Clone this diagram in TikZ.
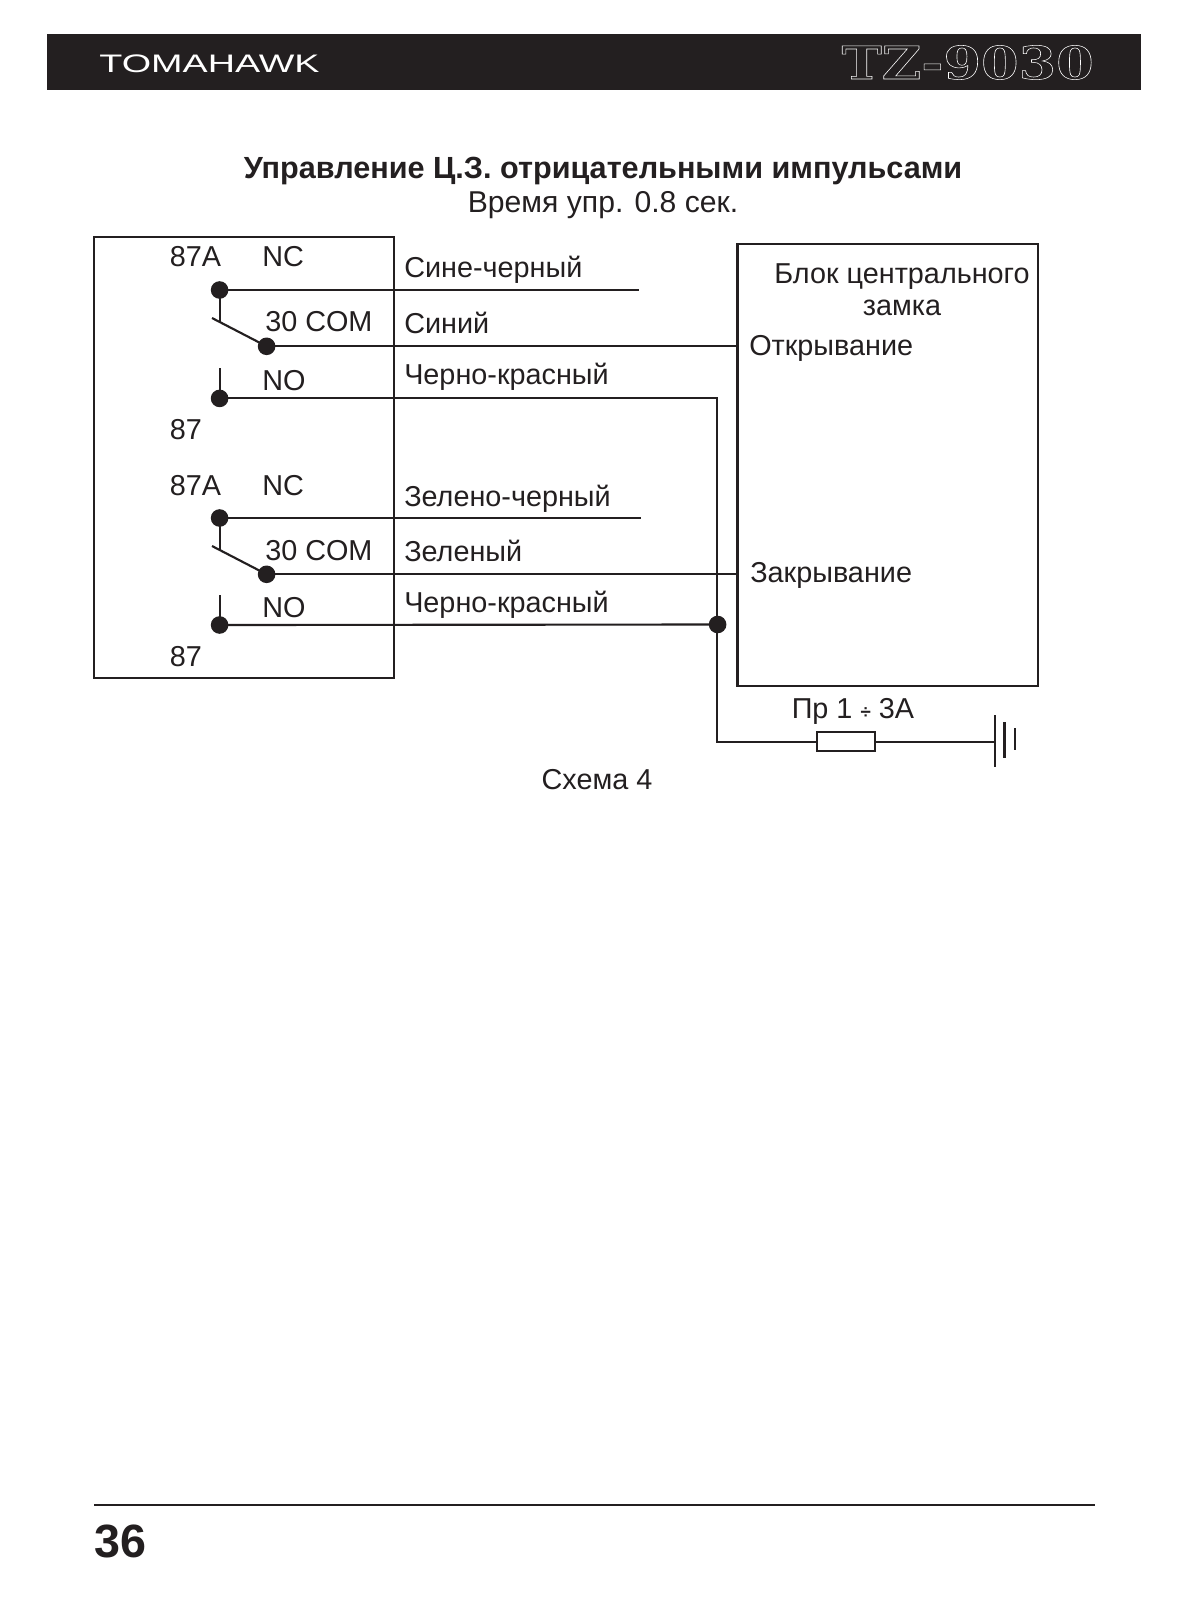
\documentclass[tikz,border=0pt]{standalone}
\usepackage{fontspec}
\setmainfont{Liberation Sans}
\newfontfamily\slabfont{DejaVu Serif}
\definecolor{ink}{HTML}{231F20}
\tikzset{
  lbl/.style={anchor=base west,inner sep=0pt,text=ink,font=\fontsize{21.6}{24}\selectfont},
  lblc/.style={lbl,anchor=base},
  wire/.style={draw=ink,line width=1.6pt},
  dot/.style={circle,fill=ink,inner sep=0pt,minimum size=13.2pt},
  boxl/.style={draw=ink,line width=1.6pt},
}
\begin{document}
\begin{tikzpicture}[x=0.75pt,y=-0.75pt]
\useasboundingbox (0,0) rectangle (1189,1600);
\fill[white] (0,0) rectangle (1189,1600);
% header
\fill[ink] (47,34) rectangle (1141,90);
\node[anchor=base west,inner sep=0pt,text=white,xscale=1.49,font=\fontsize{19}{22}\selectfont] (brand) at (99,72) {TOMAHAWK};
\node[anchor=base east,inner sep=0pt,text=white,xscale=1.19,font=\fontsize{34}{38}\selectfont\slabfont\bfseries\special{pdf:code 1 Tr 0.4 w 0.85 0.85 0.85 RG}] (model) at (1094,79) {TZ-9030\special{pdf:code 0 Tr}};
% titles
\node[lblc,font=\bfseries\fontsize{22.95}{26}\selectfont] (title) at (603,178.5) {Управление Ц.З. отрицательными импульсами};
\node[lblc,font=\fontsize{22.6}{26}\selectfont] (sub) at (603,212) {Время упр. 0.8 сек.};
% boxes
\draw[boxl] (94,237) rectangle (394,678);
\draw[boxl] (737.5,244) rectangle (1038,686);
% relay 1
\node[dot] (a1) at (219.6,290) {};
\node[dot] (b1) at (266.6,346.3) {};
\node[dot] (c1) at (219.6,398.4) {};
\coordinate (ae1) at (638.5,290);
\coordinate (be1) at (737.5,346.3);
\coordinate (p1) at (212,318);
\coordinate (q1) at (219.6,322);
\coordinate (n1) at (219.6,368);
\coordinate (ct1) at (717,398.4);
\coordinate (ct2) at (717,741.6);
\draw[wire] (a1.center) -- (ae1);
\draw[wire] (b1.center) -- (be1);
\draw[wire] (a1.center) -- (q1);
\draw[wire] (p1) -- (b1.center);
\draw[wire] (n1) -- (c1.center);
% relay 2
\node[dot] (a2) at (219.6,518) {};
\node[dot] (b2) at (266.6,574.3) {};
\node[dot] (c2) at (219.6,625) {};
\node[dot] (j) at (717.6,624.5) {};
\coordinate (ae2) at (640.5,518);
\coordinate (be2) at (737.5,574.3);
\coordinate (p2) at (212,546);
\coordinate (q2) at (219.6,550);
\coordinate (n2) at (219.6,595);
\draw[wire] (a2.center) -- (ae2);
\draw[wire] (b2.center) -- (be2);
\draw[wire] (a2.center) -- (q2);
\draw[wire] (p2) -- (b2.center);
\draw[wire] (n2) -- (c2.center);
\draw[wire] (c2.center) -- (j.center);
% fuse and ground
\node[draw=ink,line width=1.6pt,minimum width=44pt,minimum height=14pt,inner sep=0pt] (fuse) at (846,741.6) {};
\coordinate (g1t) at (994.7,715);
\coordinate (g1b) at (994.7,767);
\coordinate (g1m) at (994.7,741.6);
\draw[wire] (c1.center) -- (ct1) -- (ct2) -- (fuse.west);
\draw[wire] (fuse.east) -- (g1m);
\draw[wire] (g1t) -- (g1b);
\coordinate (g2t) at (1004.5,722);
\coordinate (g2b) at (1004.5,758);
\coordinate (g3t) at (1015,728);
\coordinate (g3b) at (1015,750);
\draw[wire] (g2t) -- (g2b);
\draw[wire] (g3t) -- (g3b);
% relay labels
\node[lbl] (t1) at (169.5,266) {87A};
\node[lbl] (t2) at (262,266) {NC};
\node[lbl] (t3) at (265,331) {30 COM};
\node[lbl] (t4) at (262,390) {NO};
\node[lbl] (t5) at (169.5,439) {87};
\node[lbl] (t6) at (169.5,495) {87A};
\node[lbl] (t7) at (262,495) {NC};
\node[lbl] (t8) at (265,560) {30 COM};
\node[lbl] (t9) at (262,617) {NO};
\node[lbl] (t10) at (169.5,666) {87};
% wire labels
\node[lbl] (w1) at (404,277) {Сине-черный};
\node[lbl] (w2) at (404,333.5) {Синий};
\node[lbl] (w3) at (404,384) {Черно-красный};
\node[lbl] (w4) at (404,506) {Зелено-черный};
\node[lbl] (w5) at (404,561) {Зеленый};
\node[lbl] (w6) at (404,612) {Черно-красный};
% block labels
\node[lblc] (r1) at (902,283) {Блок центрального};
\node[lblc] (r2) at (902,315) {замка};
\node[lbl] (r3) at (749,355) {Открывание};
\node[lbl] (r4) at (750,582) {Закрывание};
\node[lbl] (fl) at (791.5,718) {Пр 1 {\fontsize{14}{14}\selectfont\bfseries ÷} 3А};
\node[lblc] (cap) at (597,789) {Схема 4};
% footer
\coordinate (fa) at (94,1505);
\coordinate (fb) at (1095,1505);
\draw[wire] (fa) -- (fb);
\node[anchor=base west,inner sep=0pt,text=ink,font=\bfseries\fontsize{35}{40}\selectfont] (page) at (94,1557) {36};
\end{tikzpicture}
\end{document}
